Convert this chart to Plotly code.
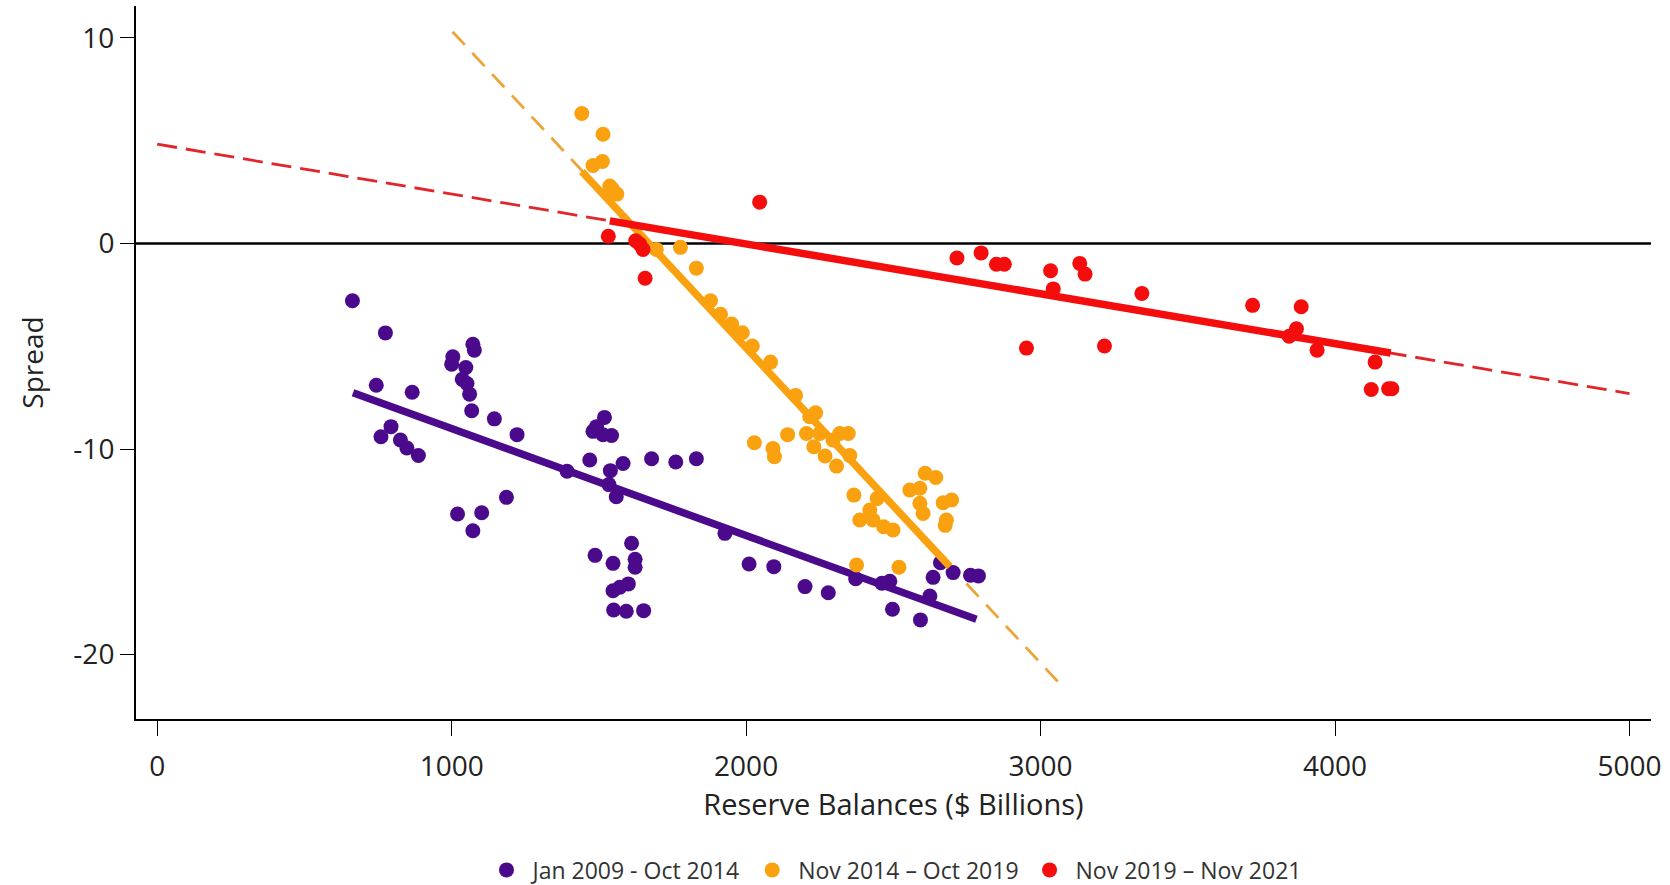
import plotly.graph_objects as go

# ---------------- data ----------------
series_names = ["Jan 2009 - Oct 2014", "Nov 2014 \u2013 Oct 2019", "Nov 2019 \u2013 Nov 2021"]

purple_x = [663, 775, 744, 866, 1072, 1077, 1004, 1000, 1048, 1036, 1052, 1061, 1068, 1145, 1222,
            794, 760, 826, 848, 887, 1186, 1020, 1102, 1072, 1519, 1492, 1480, 1514, 1543, 1469,
            1539, 1582, 1392, 1534, 1559, 1679, 1761, 1831, 1611, 1487, 1548, 1623, 1623, 1600,
            1571, 1548, 1550, 1593, 1652, 1928, 2010, 2094, 2200, 2279, 2372, 2461, 2488, 2497,
            2592, 2624, 2635, 2660, 2703, 2762, 2789]
purple_y = [-2.79, -4.35, -6.90, -7.24, -4.90, -5.19, -5.51, -5.87, -6.03, -6.61, -6.81, -7.33, -8.14,
            -8.53, -9.30, -8.91, -9.40, -9.56, -9.95, -10.31, -12.35, -13.16, -13.10, -13.97, -8.46,
            -8.91, -9.14, -9.30, -9.34, -10.53, -11.05, -10.70, -11.08, -11.73, -12.32, -10.47,
            -10.63, -10.47, -14.58, -15.17, -15.56, -15.36, -15.75, -16.56, -16.72, -16.89, -17.83,
            -17.89, -17.86, -14.10, -15.59, -15.72, -16.69, -16.99, -16.31, -16.53, -16.43, -17.79,
            -18.31, -17.15, -16.24, -15.53, -16.01, -16.14, -16.17]

orange_x = [1442, 1514, 1480, 1512, 1537, 1546, 1561, 1695, 1777, 1831, 1879, 1913, 1951, 1987, 2021,
            2083, 2028, 2091, 2096, 2141, 2168, 2236, 2216, 2205, 2250, 2230, 2268, 2307, 2295, 2318,
            2347, 2352, 2366, 2445, 2420, 2386, 2431, 2467, 2499, 2556, 2590, 2608, 2644, 2590, 2601,
            2669, 2698, 2680, 2676, 2375, 2519]
orange_y = [6.32, 5.31, 3.79, 3.99, 2.79, 2.65, 2.40, -0.29, -0.19, -1.20, -2.79, -3.44, -3.92, -4.34,
            -4.99, -5.77, -9.69, -9.97, -10.37, -9.30, -7.39, -8.24, -8.43, -9.24, -9.24, -9.89,
            -10.34, -10.83, -9.56, -9.24, -9.24, -10.31, -12.24, -12.40, -12.97, -13.45, -13.45,
            -13.78, -13.94, -11.99, -11.91, -11.18, -11.38, -12.64, -13.13, -12.61, -12.48, -13.45,
            -13.71, -15.64, -15.75]

red_x = [2046, 1532, 1625, 1639, 1650, 1657, 2716, 2798, 2850, 2877, 3034, 3043, 3133, 3151, 2952,
         3217, 3344, 3720, 3885, 3869, 3844, 3939, 4136, 4123, 4182, 4193]
red_y = [2.01, 0.35, 0.13, -0.03, -0.29, -1.69, -0.71, -0.46, -1.01, -1.01, -1.33, -2.21, -0.97,
         -1.49, -5.09, -4.99, -2.43, -3.01, -3.08, -4.15, -4.51, -5.19, -5.77, -7.10, -7.07, -7.07]

# fitted lines (endpoints)
purple_fit_x = [665, 2782]
purple_fit_y = [-7.26, -18.28]
orange_fit_x = [1442, 2692]
orange_fit_y = [3.50, -15.72]
orange_ext_x = [1003, 3072]
orange_ext_y = [10.30, -21.52]
red_fit_x = [1537, 4189]
red_fit_y = [1.10, -5.33]
red_ext_x = [0, 5000]
red_ext_y = [4.83, -7.30]

x_ticks = [0, 1000, 2000, 3000, 4000, 5000]
x_tick_labels = ["0", "1000", "2000", "3000", "4000", "5000"]
y_ticks = [-20, -10, 0, 10]
y_tick_labels = ["-20", "-10", "0", "10"]

# ---------------- styles ----------------
PURPLE = "#4B0A8C"
ORANGE = "#F9A10F"
RED = "#F40D0D"
FONT = "Open Sans"
TXT = "#222222"

fig = go.Figure()

# dashed extensions
fig.add_trace(go.Scatter(x=red_ext_x, y=red_ext_y, mode="lines", showlegend=False,
                         line=dict(color="#E0262A", width=2.8, dash="20px,9px")))
fig.add_trace(go.Scatter(x=orange_ext_x, y=orange_ext_y, mode="lines", showlegend=False,
                         line=dict(color="#EBA53A", width=2.8, dash="18px,11px")))

groups = [
    (purple_x, purple_y, purple_fit_x, purple_fit_y, PURPLE, series_names[0]),
    (orange_x, orange_y, orange_fit_x, orange_fit_y, ORANGE, series_names[1]),
    (red_x, red_y, red_fit_x, red_fit_y, RED, series_names[2]),
]
for xs, ys, fx, fy, col, name in groups:
    fig.add_trace(go.Scatter(x=xs, y=ys, mode="markers", name=name,
                             marker=dict(color=col, size=15, line=dict(width=0))))
    fig.add_trace(go.Scatter(x=fx, y=fy, mode="lines", showlegend=False,
                             line=dict(color=col, width=7.5)))

# zero line
fig.add_shape(type="line", xref="paper", yref="y", x0=0, x1=1, y0=0, y1=0,
              line=dict(color="black", width=2.5), layer="below")

fig.update_layout(
    width=1670, height=885,
    paper_bgcolor="white", plot_bgcolor="white",
    margin=dict(l=136, r=19, t=6, b=166),
    font=dict(family=FONT, color=TXT),
    showlegend=True,
    legend=dict(orientation="h", x=0.5, xanchor="center", y=0.017, yanchor="middle",
                yref="container", font=dict(size=23, family=FONT, color="#333333"),
                itemsizing="trace", itemwidth=42, bgcolor="rgba(0,0,0,0)"),
    xaxis=dict(range=[-72, 5073], tickvals=x_ticks, ticktext=x_tick_labels, ticks="outside",
               ticklen=15, tickwidth=1.2, tickcolor="black", showline=True, linecolor="black",
               linewidth=2, showgrid=False, zeroline=False, ticklabelstandoff=6,
               tickfont=dict(size=28, family=FONT, color=TXT),
               title=dict(text="Reserve Balances ($ Billions)", font=dict(size=29, family=FONT, color=TXT),
                          standoff=8)),
    yaxis=dict(range=[-23.13, 11.55], tickvals=y_ticks, ticktext=y_tick_labels, ticks="outside",
               ticklen=14, tickwidth=1.2, tickcolor="black", showline=True, linecolor="black",
               linewidth=2, showgrid=False, zeroline=False,
               tickfont=dict(size=28, family=FONT, color=TXT),
               title=dict(text="Spread", font=dict(size=28, family=FONT, color=TXT),
                          standoff=22)),
)

fig.write_html("out.html", config={"displayModeBar": False},
               post_script="document.body.style.margin='0';document.body.style.overflow='hidden';")
